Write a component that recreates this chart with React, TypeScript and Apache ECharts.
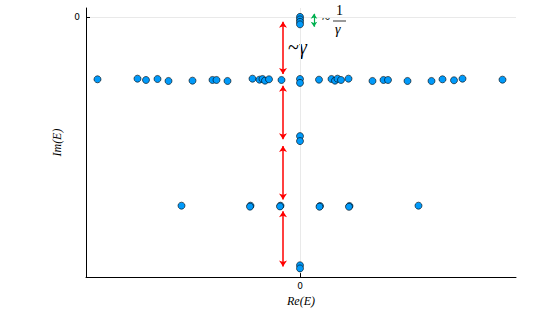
import React, { useEffect, useRef } from "react";
import * as echarts from "echarts";

// Re(E) and Im(E) of the eigenvalues (arbitrary units)
const topX = [0, 0, 0, 0];
const topY = [0, -0.04, -0.08, -0.12];

const row1X = [-4.05, -3.25, -3.08, -2.85, -2.63, -2.15, -1.75, -1.67, -1.45, -0.95, -0.81, -0.75, -0.7, -0.62, -0.37, 0, 0, 0.38, 0.63, 0.7, 0.75, 0.82, 0.97, 1.45, 1.67, 1.76, 2.15, 2.63, 2.85, 3.08, 3.25, 4.05];
const row1Y = [-1.005, -0.995, -1.016, -1.0, -1.032, -1.027, -1.016, -1.016, -1.032, -0.995, -1.011, -1.0, -1.027, -1.005, -1.016, -1.0, -1.063, -1.011, -1.0, -1.027, -0.995, -1.016, -0.995, -1.032, -1.016, -1.016, -1.032, -1.032, -1.005, -1.021, -0.995, -1.011];

const midX = [0, 0];
const midY = [-1.92, -2.0];

const row3X = [-2.37, -0.99, -1.0, -0.39, -0.4, 0.4, 0.39, 0.99, 0.98, 2.37];
const row3Y = [-3.04, -3.04, -3.055, -3.04, -3.052, -3.045, -3.057, -3.045, -3.058, -3.04];

const botX = [0, 0];
const botY = [-4.0, -4.05];

// annotation arrows (data coords)
const redArrowX = -0.34;
const redArrowSpans = [
  [-0.08, -0.92],
  [-1.11, -1.97],
  [-2.08, -2.94],
  [-3.13, -4.02],
];
const greenArrowX = 0.28;
const greenArrowSpan = [0.05, -0.16];

const xTicks = [0];
const yTicks = [0];

export default function App() {
  const ref = useRef<HTMLDivElement>(null);
  useEffect(() => {
    document.body.style.margin = "0";
    if (!ref.current) return;
    const chart = echarts.init(ref.current, null, { renderer: "svg" });
    const pts: number[][] = [];
    const add = (xs: number[], ys: number[]) => xs.forEach((x, i) => pts.push([x, ys[i]]));
    add(topX, topY);
    add(row1X, row1Y);
    add(midX, midY);
    add(row3X, row3Y);
    add(botX, botY);

    const serif = "'Liberation Serif', 'DejaVu Serif', serif";
    chart.setOption({
      animation: false,
      backgroundColor: "#ffffff",
      grid: { left: 86, right: 39, top: 8, bottom: 31, containLabel: false },
      xAxis: {
        type: "value",
        min: -4.28,
        max: 4.32,
        name: "Re(E)",
        nameLocation: "middle",
        nameGap: 15,
        nameTextStyle: { fontFamily: serif, fontStyle: "italic", fontSize: 12, color: "#000" },
        axisLine: { show: true, onZero: false, lineStyle: { color: "#000", width: 1 } },
        axisTick: { show: true, inside: true, length: 4, customValues: xTicks, lineStyle: { color: "#000" } },
        axisLabel: { customValues: xTicks, color: "#000", fontSize: 9, margin: 4, fontFamily: "'DejaVu Sans', sans-serif" },
        splitLine: { show: false },
      },
      yAxis: {
        type: "value",
        min: -4.19,
        max: 0.143,
        name: "Im(E)",
        nameLocation: "middle",
        nameGap: 18,
        nameRotate: 90,
        nameTextStyle: { fontFamily: serif, fontStyle: "italic", fontSize: 12, color: "#000" },
        axisLine: { show: true, onZero: false, lineStyle: { color: "#000", width: 1 } },
        axisTick: { show: true, inside: true, length: 4, customValues: yTicks, lineStyle: { color: "#000" } },
        axisLabel: { customValues: yTicks, color: "#000", fontSize: 9, margin: 6, fontFamily: "'DejaVu Sans', sans-serif" },
        splitLine: { show: false },
      },
      series: [
        {
          type: "scatter",
          data: pts,
          symbolSize: 7,
          itemStyle: { color: "#009AFA", borderColor: "#000", borderWidth: 0.6, opacity: 1 },
          markLine: {
            silent: true,
            symbol: "none",
            label: { show: false },
            lineStyle: { color: "#e9e9e9", width: 1, type: "solid" },
            data: [{ xAxis: 0 }, { yAxis: 0 }],
            z: 0,
          },
          z: 3,
        },
        {
          type: "lines",
          coordinateSystem: "cartesian2d",
          polyline: false,
          symbol: ["arrow", "arrow"],
          symbolSize: 6,
          lineStyle: { color: "#ff0000", width: 1.5, opacity: 1 },
          data: redArrowSpans.map((s) => ({ coords: [[redArrowX, s[0]], [redArrowX, s[1]]] })),
          z: 4,
        },
        {
          type: "lines",
          coordinateSystem: "cartesian2d",
          polyline: false,
          symbol: ["arrow", "arrow"],
          symbolSize: 5,
          lineStyle: { color: "#00b050", width: 1.2, opacity: 1 },
          data: [{ coords: [[greenArrowX, greenArrowSpan[0]], [greenArrowX, greenArrowSpan[1]]] }],
          z: 4,
        },
      ],
      graphic: [
        { type: "text", left: 288, top: 37, style: { text: "~", font: "20px " + serif, fill: "#000" } },
        { type: "text", left: 299, top: 37, style: { text: "γ", font: "italic 20px " + serif, fill: "#000" } },
        { type: "text", left: 322, top: 11, style: { text: "~", font: "15px " + serif, fill: "#000" } },
        { type: "text", left: 336, top: 3, style: { text: "1", font: "14px " + serif, fill: "#000" } },
        { type: "line", shape: { x1: 333, y1: 21, x2: 346, y2: 21 }, style: { stroke: "#000", lineWidth: 0.8 } },
        { type: "text", left: 335, top: 22, style: { text: "γ", font: "italic 14px " + serif, fill: "#000" } },
      ],
    });
    return () => chart.dispose();
  }, []);
  return <div ref={ref} style={{ width: 555, height: 312 }} />;
}
